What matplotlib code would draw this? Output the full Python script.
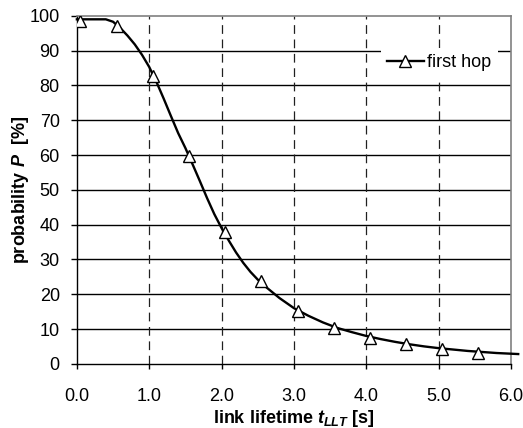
import matplotlib
matplotlib.use("Agg")
import matplotlib.pyplot as plt

plt.rcParams['font.family'] = ['Liberation Sans', 'DejaVu Sans']
plt.rcParams['mathtext.fontset'] = 'custom'
plt.rcParams['mathtext.it'] = 'Liberation Sans:italic:bold'
plt.rcParams['mathtext.bf'] = 'Liberation Sans:bold'
plt.rcParams['mathtext.rm'] = 'Liberation Sans:bold'

# smooth curve
curve_x = [0.0, 0.1, 0.2, 0.3, 0.4, 0.5, 0.6, 0.7, 0.8, 0.9, 1.0, 1.1, 1.2, 1.3, 1.4,
           1.5, 1.6, 1.7, 1.8, 1.9, 2.0, 2.1, 2.2, 2.3, 2.4, 2.5, 2.6, 2.8, 3.0, 3.2,
           3.4, 3.6, 3.8, 4.0, 4.2, 4.4, 4.6, 4.8, 5.0, 5.2, 5.4, 5.6, 5.8, 6.0, 6.1]
curve_y = [99, 99, 99, 99, 99, 98.3, 96.5, 94.3, 91.8, 88.8, 85.3, 81.0, 76.2, 71.2, 66.3,
           62.0, 57.3, 52.5, 47.6, 43.0, 39.0, 35.4, 32.0, 29.0, 26.4, 24.2, 22.3, 18.9, 16.0, 13.8,
           11.9, 10.3, 9.1, 8.0, 7.1, 6.3, 5.6, 5.0, 4.5, 4.1, 3.7, 3.4, 3.1, 2.9, 2.8]

# markers
marker_x = [0.05, 0.55, 1.05, 1.55, 2.05, 2.55, 3.05, 3.55, 4.05, 4.55, 5.05, 5.55]
marker_y = [98.6, 97.2, 82.8, 59.6, 37.9, 23.8, 15.3, 10.4, 7.5, 5.6, 4.3, 3.2]

x_ticks = [0, 1, 2, 3, 4, 5, 6]
x_ticklabels = ['0.0', '1.0', '2.0', '3.0', '4.0', '5.0', '6.0']
y_ticks = list(range(0, 101, 10))

FS = 13

fig = plt.figure(figsize=(5.23, 4.28), dpi=100)
ax = fig.add_axes([0.147, 0.150, 0.830, 0.813])

ax.set_xlim(0, 6)
ax.set_ylim(0, 100)
ax.set_xticks(x_ticks)
ax.set_xticklabels(x_ticklabels)
ax.set_yticks(y_ticks)

for yv in y_ticks[1:-1]:
    ax.axhline(yv, color='black', lw=1.0, zorder=1)
for xv in x_ticks[1:-1]:
    ax.axvline(xv, color='#202020', lw=0.9, ls=(0, (7, 4.5)), zorder=1)

ax.plot(curve_x, curve_y, color='black', lw=1.7, zorder=3, clip_on=False)
ax.plot(marker_x, marker_y, ls='none', marker='^', markersize=9,
        markerfacecolor='white', markeredgecolor='black', markeredgewidth=1.0, zorder=4)

# legend handle
h, = ax.plot([], [], color='black', lw=1.7, marker='^', markersize=8,
             markerfacecolor='white', markeredgecolor='black', markeredgewidth=1.0)
leg = ax.legend([h], ['first hop'], loc='center', bbox_to_anchor=(0.835, 0.865),
                frameon=True, fancybox=False, framealpha=1, edgecolor='none',
                fontsize=FS, handlelength=2.0, handletextpad=0.2, borderpad=0.35,
                borderaxespad=0)
leg.set_zorder(5)

for side in ['left', 'bottom']:
    ax.spines[side].set_color('black')
    ax.spines[side].set_linewidth(1.0)
for side in ['top', 'right']:
    ax.spines[side].set_color('#808080')
    ax.spines[side].set_linewidth(1.2)

ax.tick_params(axis='both', direction='out', width=1.0, labelsize=FS, color='black')
ax.tick_params(axis='x', length=3.6, pad=14)
ax.tick_params(axis='y', length=4.3, pad=8)

ax.set_xlabel(r'link lifetime $\mathit{t}_{\mathit{LLT}}$ [s]', fontsize=FS, fontweight='bold', labelpad=2)
ax.set_ylabel(r'probability $\mathit{P}$  [%]', fontsize=FS, fontweight='bold', labelpad=-1)

fig.savefig('out.png', dpi=100)
